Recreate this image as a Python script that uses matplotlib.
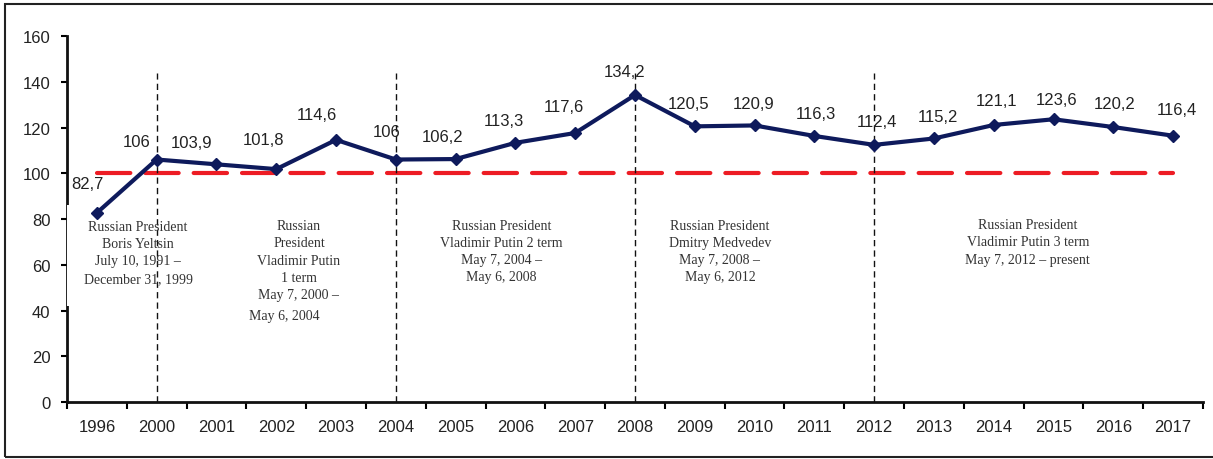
import matplotlib.pyplot as plt
from matplotlib.patches import Rectangle

years = ["1996", "2000", "2001", "2002", "2003", "2004", "2005", "2006", "2007",
         "2008", "2009", "2010", "2011", "2012", "2013", "2014", "2015", "2016", "2017"]
index_values = [82.7, 106, 103.9, 101.8, 114.6, 106, 106.2, 113.3, 117.6,
                134.2, 120.5, 120.9, 116.3, 112.4, 115.2, 121.1, 123.6, 120.2, 116.4]
base_level = 100
term_starts = ["2000", "2004", "2008", "2012"]

# label offsets in pixels (dx, dy) relative to each point
label_offsets = [(-9, 29), (-20, 18), (-25, 22), (-13, 30), (-19, 25), (-9, 28),
                 (-13, 23), (-12, 22), (-11, 26), (-10, 24), (-6, 23), (-1, 22),
                 (2, 22), (3, 23), (4, 22), (3, 24), (3, 20), (1, 24), (4, 26)]

presidents = [
    ("Russian President\nBoris Yeltsin\nJuly 10, 1991 –\nDecember 31, 1999", 0.69, 65.4),
    ("Russian\nPresident\nVladimir Putin\n1 term\nMay 7, 2000 –", 3.38, 62.0),
    ("May 6, 2004", 3.13, 38.0),
    ("Russian President\nVladimir Putin 2 term\nMay 7, 2004 –\nMay 6, 2008", 6.77, 66.0),
    ("Russian President\nDmitry Medvedev\nMay 7, 2008 –\nMay 6, 2012", 10.42, 66.0),
    ("Russian President\nVladimir Putin 3 term\nMay 7, 2012 – present", 15.57, 70.0),
]


def fmt(v):
    s = f"{v:g}"
    return s.replace(".", ",")


W, H = 1213, 460
fig = plt.figure(figsize=(W / 100, H / 100), dpi=100)
ax = fig.add_axes([67 / W, 1 - 403 / H, (1203 - 67) / W, (403 - 37) / H])

x = list(range(len(years)))

ax.plot([x[0], x[-1]], [base_level, base_level], color="#ED1C24", lw=3,
        dashes=(8, 3.6), dash_capstyle="round", zorder=3)

ax.plot(x, index_values, color="#0E1A5C", lw=3, marker="D", markersize=6,
        zorder=5)

for ts in term_starts:
    ax.vlines(years.index(ts), 0, 144, colors="#111111", lw=1,
              linestyles=(0, (4.5, 3)), zorder=4)

for xi, v, (dx, dy) in zip(x, index_values, label_offsets):
    ax.annotate(fmt(v), (xi, v), xytext=(dx, dy), textcoords="offset pixels",
                ha="center", va="center", fontsize=12, color="#222222",
                family="Liberation Sans", zorder=6)

for text, tx, ty in presidents:
    ax.text(tx, ty, text, ha="center", va="center", fontsize=10,
            family="Liberation Serif", color="#333333", linespacing=1.42,
            zorder=6)

# white box behind the Yeltsin note, cutting into the y axis
ax.add_patch(Rectangle((-0.5, 42), 2.2, 44, facecolor="white", edgecolor="none",
                       zorder=2.6, clip_on=False))

ax.set_xlim(-0.5, len(years) - 0.5)
ax.set_ylim(0, 160)
ax.set_yticks(range(0, 161, 20))
ax.set_xticks(x)
ax.set_xticklabels(years)
ax.set_xticks([i - 0.5 for i in range(len(years) + 1)], minor=True)

ax.tick_params(axis="x", which="major", length=0, pad=12, labelsize=12,
               labelcolor="#222222")
ax.tick_params(axis="x", which="minor", length=5, width=1.5, direction="out")
ax.tick_params(axis="y", length=4, width=1.5, pad=8, labelsize=12,
               labelcolor="#222222")
for lab in ax.get_xticklabels() + ax.get_yticklabels():
    lab.set_family("Liberation Sans")

for side in ["top", "right"]:
    ax.spines[side].set_visible(False)
for side in ["left", "bottom"]:
    ax.spines[side].set_linewidth(2)
    ax.spines[side].set_color("#111111")

fig.patches.append(Rectangle((5 / W, 2 / H), 1.0, 1 - 7 / H, transform=fig.transFigure,
                             facecolor="none", edgecolor="#222222", lw=1.5))

fig.savefig("out.png", dpi=100)
